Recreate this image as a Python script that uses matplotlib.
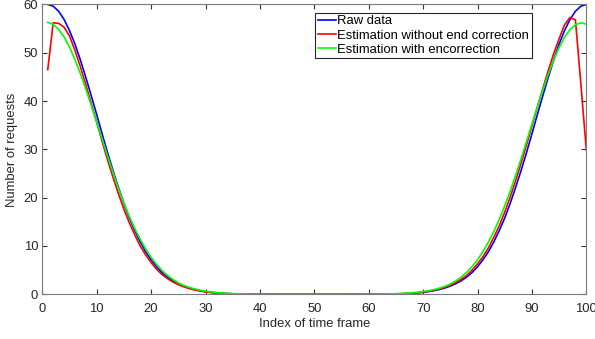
import numpy as np
import matplotlib
matplotlib.use("Agg")
import matplotlib.pyplot as plt

plt.rcParams.update(
    {
        "font.family": ["Liberation Sans", "DejaVu Sans"],
        "font.size": 9.4,
        "axes.linewidth": 0.8,
    }
)

# time frame index 1..100
frame = np.arange(1, 101)

# raw data, x = 1..50 then x = 51..100
raw_left = [
    60.0, 59.65, 58.6, 56.9, 54.6, 51.8, 48.5, 44.9, 41.1, 37.2,
    33.2, 29.3, 25.6, 22.1, 18.8, 15.8, 13.2, 10.85, 8.82, 7.15,
    5.7, 4.5, 3.55, 2.8, 2.2, 1.7, 1.3, 1.0, 0.75, 0.55,
    0.4, 0.3, 0.21, 0.15, 0.1, 0.07, 0.05, 0.03, 0.02, 0.01,
    0, 0, 0, 0, 0, 0, 0, 0, 0, 0,
]
raw_right = [
    0, 0, 0, 0, 0, 0, 0, 0, 0, 0,
    0.01, 0.02, 0.03, 0.05, 0.07, 0.1, 0.15, 0.21, 0.3, 0.4,
    0.55, 0.75, 1.0, 1.3, 1.7, 2.2, 2.8, 3.55, 4.5, 5.7,
    7.15, 8.82, 10.85, 13.2, 15.8, 18.8, 22.1, 25.6, 29.3, 33.2,
    37.2, 41.1, 44.9, 48.5, 51.8, 54.6, 56.9, 58.6, 59.65, 60.0,
]

# estimation without end correction
est_left = [
    46.5, 56.2, 56.1, 55.3, 53.5, 50.5, 47.1, 43.4, 39.5, 35.6,
    31.6, 27.8, 24.2, 20.8, 17.6, 14.8, 12.3, 10.0, 8.15, 6.57,
    5.2, 4.1, 3.25, 2.56, 2.0, 1.54, 1.18, 0.9, 0.67, 0.49,
    0.36, 0.26, 0.19, 0.13, 0.09, 0.06, 0.04, 0.025, 0.015, 0.01,
    0, 0, 0, 0, 0, 0, 0, 0, 0, 0,
]
est_right = [
    0, 0, 0, 0, 0, 0, 0, 0, 0, 0.01,
    0.015, 0.02, 0.04, 0.06, 0.08, 0.12, 0.17, 0.25, 0.34, 0.46,
    0.63, 0.85, 1.12, 1.46, 1.9, 2.44, 3.1, 3.9, 5.0, 6.3,
    7.8, 9.6, 11.8, 14.2, 17.0, 20.1, 23.5, 27.1, 30.9, 34.8,
    38.8, 42.6, 46.3, 49.8, 52.9, 55.8, 57.3, 56.8, 43.5, 29.9,
]

# estimation with end correction
corr_left = [
    56.3, 55.9, 54.8, 53.3, 51.2, 48.6, 45.7, 42.5, 39.1, 35.6,
    32.1, 28.6, 25.2, 21.9, 18.9, 16.1, 13.6, 11.4, 9.39, 7.67,
    6.2, 4.96, 3.92, 3.07, 2.37, 1.82, 1.45, 1.12, 0.86, 0.65,
    0.49, 0.37, 0.27, 0.2, 0.14, 0.1, 0.07, 0.05, 0.03, 0.02,
    0.01, 0, 0, 0, 0, 0, 0, 0, 0, 0,
]
corr_right = [
    0, 0, 0, 0, 0, 0, 0, 0, 0.01, 0.02,
    0.03, 0.04, 0.06, 0.08, 0.12, 0.17, 0.23, 0.31, 0.42, 0.56,
    0.74, 0.97, 1.27, 1.65, 2.11, 2.76, 3.55, 4.54, 5.73, 7.14,
    8.82, 10.8, 13.0, 15.5, 18.3, 21.3, 24.6, 28.0, 31.6, 35.2,
    38.8, 42.3, 45.5, 48.5, 51.1, 53.2, 54.8, 55.8, 56.2, 55.94,
]

raw = raw_left + raw_right
est = est_left + est_right
corr = corr_left + corr_right

labels = [
    "Raw data",
    "Estimation without end correction",
    "Estimation with encorrection",
]

fig = plt.figure(figsize=(5.95, 3.39), dpi=100)
ax = fig.add_axes([0.0711, 0.1319, 0.9143, 0.8549])

ax.plot(frame, raw, color=(0, 0, 1), lw=1.2, label=labels[0])
ax.plot(frame, est, color=(1, 0, 0), lw=1.2, label=labels[1])
ax.plot(frame, corr, color=(0, 1, 0), lw=1.2, label=labels[2])

ax.set_xlim(0, 100)
ax.set_ylim(0, 60)
ax.set_xticks(range(0, 101, 10))
ax.set_yticks(range(0, 61, 10))

for s in ax.spines.values():
    s.set_color("#7a7a7a")
ax.tick_params(direction="in", length=3.6, width=0.8, color="#333333",
               labelcolor="#262626", top=True, right=True)
ax.tick_params(axis="x", pad=6)
ax.tick_params(axis="y", pad=3)

ax.set_xlabel("Index of time frame", color="#262626", labelpad=2.5)
ax.set_ylabel("Number of requests", color="#262626", labelpad=4)

leg = ax.legend(
    loc="upper right",
    bbox_to_anchor=(0.900, 0.9717),
    borderaxespad=0,
    fancybox=False,
    framealpha=1,
    edgecolor="#262626",
    handlelength=1.4,
    handletextpad=0.1,
    borderpad=0.2,
    labelspacing=0.15,
)
leg.get_frame().set_linewidth(0.8)

fig.savefig("out.png", dpi=100)
